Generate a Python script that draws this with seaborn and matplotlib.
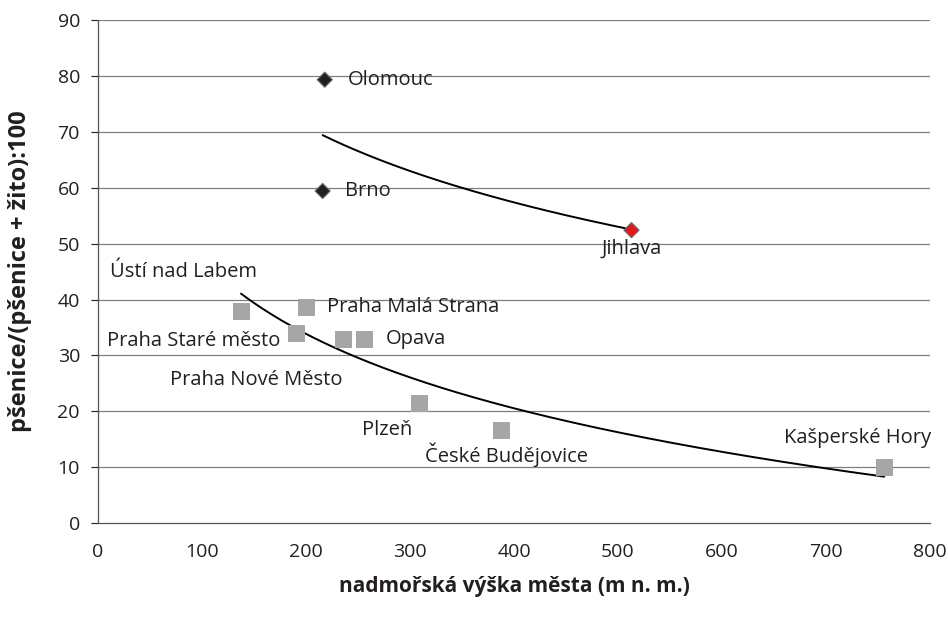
import numpy as np
import pandas as pd
import matplotlib
matplotlib.use("Agg")
import matplotlib.pyplot as plt
import seaborn as sns

# lowland towns (grey squares)
low_x = [137.5, 191, 200, 235.6, 256.7, 309.6, 388, 756]
low_y = [37.9, 34.0, 38.6, 32.9, 32.9, 21.5, 16.6, 10.0]

# Moravian towns (diamonds), Jihlava highlighted
mor_x = [218, 216, 513]
mor_y = [79.3, 59.4, 52.4]
mor_kind = ["normal", "normal", "highlight"]

# label text and where it sits (data coords)
label_text = ["Olomouc", "Brno", "Jihlava", "Ústí nad Labem", "Praha Malá Strana",
              "Praha Staré město", "Opava", "Praha Nové Město", "Plzeň",
              "České Budějovice", "Kašperské Hory"]
label_x = [240, 237.5, 513, 11.5, 220, 8.7, 277, 69, 254, 314, 730]
label_y = [79.3, 59.4, 49.0, 45.0, 38.6, 32.6, 32.9, 25.6, 16.6, 12.3, 15.2]
label_ha = ["left", "left", "center", "left", "left", "left", "left", "left",
            "left", "left", "center"]

sns.set_style("white")
plt.rcParams["font.family"] = ["Open Sans", "DejaVu Sans"]

fig = plt.figure(figsize=(9.48, 6.2), dpi=100)
ax = fig.add_axes([0.1034, 0.156, 0.8776, 0.812])

for yv in range(10, 91, 10):
    ax.axhline(yv, color="#7f7f7f", lw=0.9, zorder=0)

def log_fit(xs, ys):
    b, a = np.polyfit(np.log(xs), ys, 1)
    xx = np.linspace(min(xs), max(xs), 200)
    return pd.DataFrame({"x": xx, "y": a + b * np.log(xx)})

low_fit = log_fit(low_x, low_y)
mor_fit = log_fit(mor_x, mor_y)
sns.lineplot(data=low_fit, x="x", y="y", color="black", lw=1.4, ax=ax, zorder=2)
sns.lineplot(data=mor_fit, x="x", y="y", color="black", lw=1.4, ax=ax, zorder=2)

low_df = pd.DataFrame({"x": low_x, "y": low_y})
sns.scatterplot(data=low_df, x="x", y="y", marker="s", s=150, color="#a6a6a6",
                edgecolor="none", ax=ax, zorder=3)

mor_df = pd.DataFrame({"x": mor_x, "y": mor_y, "kind": mor_kind})
sns.scatterplot(data=mor_df, x="x", y="y", hue="kind", marker="D", s=60,
                palette={"normal": "#231f20", "highlight": "#e3161b"},
                edgecolor="#6d6d6d", linewidth=0.8, legend=False, ax=ax, zorder=4)

for t, lx, ly, ha in zip(label_text, label_x, label_y, label_ha):
    ax.text(lx, ly, t, ha=ha, va="center", fontsize=14.5, color="#231f20", zorder=5)

ax.set_xlim(0, 800)
ax.set_ylim(0, 90)
ax.set_xticks(range(0, 801, 100))
ax.set_yticks(range(0, 91, 10))
ax.tick_params(axis="x", length=0, pad=14, labelsize=14, colors="#231f20")
ax.tick_params(axis="y", length=5, width=0.8, direction="out", pad=8, labelsize=14,
               colors="#231f20", left=True)
for side in ["top", "right"]:
    ax.spines[side].set_visible(False)
ax.spines["left"].set_color("#555555")
ax.spines["bottom"].set_color("#555555")
ax.spines["left"].set_linewidth(0.9)
ax.spines["bottom"].set_linewidth(0.9)

ax.set_xlabel("nadmořská výška města (m n. m.)", fontsize=15, fontweight="bold",
              labelpad=11, color="#231f20")
ax.set_ylabel("pšenice/(pšenice + žito):100", fontsize=17, fontweight="bold",
              labelpad=18, color="#231f20")

fig.savefig("out.png", dpi=100)
